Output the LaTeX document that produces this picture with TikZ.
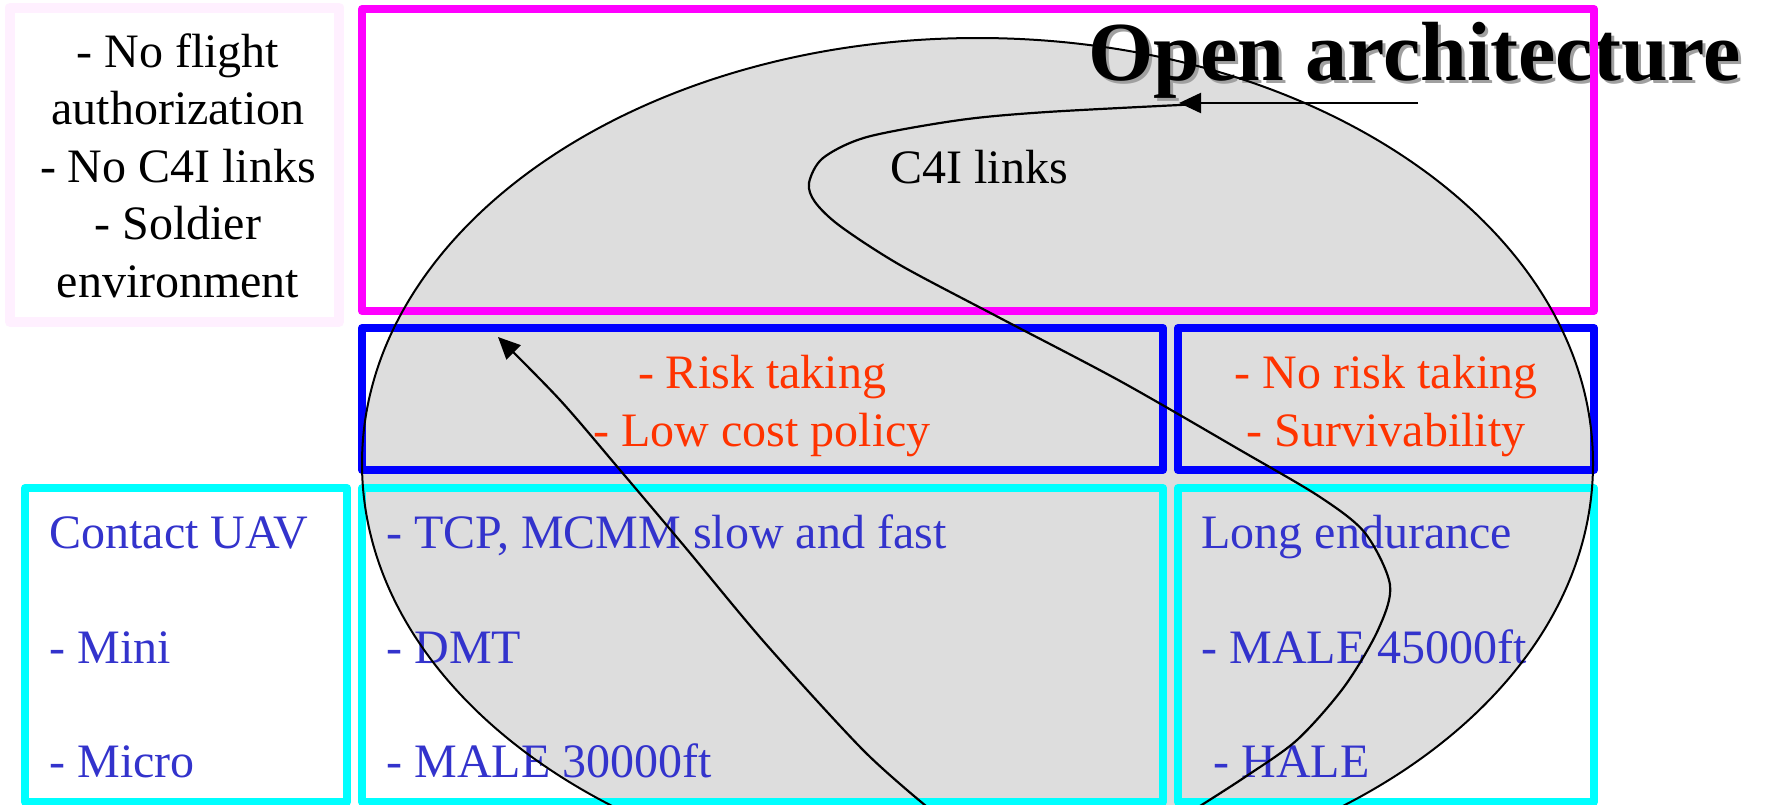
\documentclass[tikz,border=0pt]{standalone}
\usepackage{fontspec}
\setmainfont{Liberation Serif}
\usetikzlibrary{arrows.meta}
\definecolor{faint}{RGB}{255,240,255}
\definecolor{magbox}{RGB}{255,0,255}
\definecolor{bluebox}{RGB}{0,0,255}
\definecolor{cyanbox}{RGB}{0,255,255}
\definecolor{redtxt}{RGB}{255,51,0}
\definecolor{bluetxt}{RGB}{51,51,204}
\definecolor{ellgray}{RGB}{221,221,221}
\definecolor{shadowgray}{RGB}{160,160,160}

\begin{document}
\begin{tikzpicture}[x=0.5pt,y=-0.5pt,
  boxline/.style={line width=4pt, line join=round},
  txt/.style={inner sep=0pt, font=\fontsize{24}{28.75}\selectfont},
  lefttxt/.style={txt, anchor=base west, text=bluetxt},
  redlbl/.style={txt, anchor=base, text=redtxt},
  bigtxt/.style={inner sep=0pt, anchor=base west, font=\fontsize{42}{50}\selectfont\bfseries},
  curveline/.style={line width=1.1pt, black},
  tip/.style={-{Triangle[length=11pt,width=10pt]}}
]
\useasboundingbox (0,0) rectangle (1771,804);

% ellipse fill
\fill[ellgray] (977.5,463.5) ellipse [x radius=307.75pt, y radius=212.75pt];

% texts
\node[txt, anchor=base, align=center] (nofl) at (178,297)
  {- No flight\\authorization\\- No C4I links\\- Soldier\\environment};
\node[txt, anchor=base west] (c4i) at (890,183) {C4I links};

\node[redlbl] (risk1) at (762,388) {- Risk taking};
\node[redlbl] (risk2) at (762,446) {- Low cost policy};
\node[redlbl] (norisk1) at (1386,388) {- No risk taking};
\node[redlbl] (norisk2) at (1386,446) {- Survivability};

\node[lefttxt] (cuav) at (49,548) {Contact UAV};
\node[lefttxt] (mini) at (49,663) {- Mini};
\node[lefttxt] (micro) at (49,777) {- Micro};
\node[lefttxt] (tcp) at (386,548) {- TCP, MCMM slow and fast};
\node[lefttxt] (dmt) at (386,663) {- DMT};
\node[lefttxt] (male30) at (386,777) {- MALE 30000ft};
\node[lefttxt] (longe) at (1201,548) {Long endurance};
\node[lefttxt] (male45) at (1201,663) {- MALE 45000ft};
\node[lefttxt] (hale) at (1213,777) {- HALE};

\node[bigtxt, text=shadowgray] (oashadow) at (1091,83) {Open architecture};
\node[bigtxt] (oa) at (1088,80) {Open architecture};

% boxes
\draw[boxline, faint, line width=5pt] (10,7.5) rectangle (339,322);
\draw[boxline, magbox] (362,9) rectangle (1594,311);
\draw[boxline, bluebox] (362,328) rectangle (1163,470);
\draw[boxline, bluebox] (1178,328) rectangle (1594,470);
\draw[boxline, cyanbox] (25,488) rectangle (347,802);
\draw[boxline, cyanbox] (362,488) rectangle (1163,802);
\draw[boxline, cyanbox] (1178,488) rectangle (1594,802);

% ellipse outline
\draw[line width=1pt] (977.5,463.5) ellipse [x radius=307.75pt, y radius=212.75pt];

% connectors
\coordinate (arrtail) at (1418,103);
\coordinate (arrhead) at (1179,103);
\coordinate (s1start) at (1200,104);
\coordinate (s1end) at (1200,806);
\coordinate (s2start) at (926,806);
\coordinate (s2end) at (498,337);

\draw[curveline, tip] (arrtail) -- (arrhead);
\draw[curveline] plot[smooth, tension=0.5] coordinates {(s1start) (1047,112) (960,120) (867,137) (823,158) (809,183) (815,202) (840,226) (900,265) (1000,318) (1120,381) (1240,450) (1320,497) (1365,533) (1390,585) (1378,630) (1344,687) (1297,740) (1245,777) (s1end)};
\draw[curveline, tip] plot[smooth, tension=0.5] coordinates {(s2start) (863,750) (765,643) (685,547) (620,470) (560,400) (s2end)};
\end{tikzpicture}
\end{document}
